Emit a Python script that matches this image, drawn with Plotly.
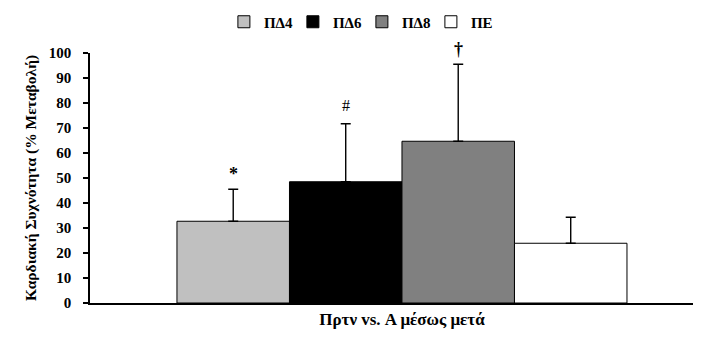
import plotly.graph_objects as go

category = ["Πρτν vs. Α μέσως μετά"]
groups = ["ΠΔ4", "ΠΔ6", "ΠΔ8", "ΠΕ"]
means = [32.7, 48.5, 64.7, 23.9]
sds = [12.8, 23.2, 30.8, 10.4]
marks = ["*", "#", "†", ""]
colors = ["#c0c0c0", "#000000", "#808080", "#ffffff"]
y_ticks = list(range(0, 101, 10))

FONT = "Liberation Serif"
mark_style = {
    "*": dict(size=18, weight="bold", shift=3),
    "#": dict(size=16, weight="normal", shift=8),
    "†": dict(size=18, weight="bold", shift=3),
}

fig = go.Figure()
for g, m, s, c in zip(groups, means, sds, colors):
    fig.add_trace(go.Bar(
        name=g, x=category, y=[m],
        marker=dict(color=c, line=dict(color="black", width=1)),
        error_y=dict(type="data", array=[s], arrayminus=[0], symmetric=False,
                     color="black", thickness=1.4, width=5),
    ))

n = len(groups)
bargap = 0.2
bw = (1 - bargap) / n
for i, (m, s, t) in enumerate(zip(means, sds, marks)):
    if not t:
        continue
    st = mark_style[t]
    xo = -(1 - bargap) / 2 + bw * (i + 0.5)
    fig.add_annotation(x=xo, y=m + s, xref="x", yref="y", text=t, showarrow=False,
                       yanchor="bottom", yshift=st["shift"],
                       font=dict(family=FONT, size=st["size"], color="black",
                                 weight=st["weight"]))

fig.update_layout(
    width=693, height=330,
    margin=dict(l=82, r=0, t=45, b=35, autoexpand=False),
    paper_bgcolor="white", plot_bgcolor="white",
    barmode="group", bargap=bargap, bargroupgap=0,
    font=dict(family=FONT, size=13, color="black"),
    showlegend=True,
    legend=dict(orientation="h", x=0.445, xanchor="center", y=1.124, yanchor="middle",
                font=dict(family=FONT, size=15, color="black", weight="bold"),
                traceorder="normal", itemwidth=30, entrywidth=24),
    xaxis=dict(range=[-0.5546, 0.5316], showline=True, linecolor="black", linewidth=1.5,
               ticks="", tickfont=dict(family=FONT, size=17, weight="bold"),
               showgrid=False, zeroline=False, automargin=False),
    yaxis=dict(range=[0, 100], tickvals=y_ticks, showline=True, linecolor="black", linewidth=1.5,
               ticks="outside", ticklen=5, tickwidth=1.5, tickcolor="black",
               ticklabelstandoff=9,
               tickfont=dict(family=FONT, size=15, weight="bold"),
               showgrid=False, zeroline=False, automargin=False,
               title=dict(text="Καρδιακή Συχνότητα (% Μεταβολή)", standoff=8,
                          font=dict(family=FONT, size=15.5, weight="bold"))),
)

fig.write_html("out.html")
